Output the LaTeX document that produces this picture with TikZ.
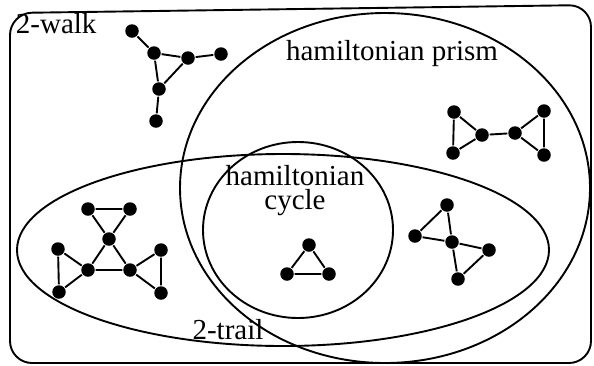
\documentclass[tikz,border=0pt]{standalone}
\usepackage{fontspec}
\setmainfont{Liberation Serif}
\begin{document}
\begin{tikzpicture}[x=1pt,y=-1pt,line width=1.9pt,
	vtx/.style={circle,fill,inner sep=0pt,minimum size=13.5pt},
	lbl/.style={font=\fontsize{29}{24}\selectfont,inner sep=0pt}]
	\useasboundingbox (0,0) rectangle (594,365);
	
	% outer frame and the three classes
	\draw[rounded corners=22pt] (10,363)--(10,13)--(591,5)--(591,363)--cycle;
	\draw (385,188) ellipse [x radius=205,y radius=175];
	\draw (283,250) ellipse [x radius=266,y radius=96];
	\draw (298,230) ellipse [x radius=95,y radius=88];
	
	\node[lbl,anchor=base west] (walk) at (15,33) {2-walk};
	\node[lbl,anchor=base] (prism) at (392,60) {hamiltonian prism};
	\node[lbl,align=center] (ham) at (295,191) {hamiltonian\\cycle};
	\node[lbl,anchor=base] (trail) at (228,339) {2-trail};
	
	% 2-walk graph
	\foreach \n/\x/\y in {w1/132/31,w2/154/53,w3/188/58,w4/221/54,w5/159/89,w6/156/121}
		\node[vtx] (\n) at (\x,\y) {};
	\draw (w1)--(w2)--(w3)--(w4) (w2)--(w5)--(w3) (w5)--(w6);
	
	% prism graph
	\foreach \n/\x/\y in {p1/454/112,p2/453/153,p3/482/135,p4/515/133,p5/544/111,p6/544/155}
		\node[vtx] (\n) at (\x,\y) {};
	\draw (p1)--(p2)--(p3)--(p1) (p3)--(p4) (p4)--(p5)--(p6)--(p4);
	
	% 2-trail graph
	\foreach \n/\x/\y in {t1/88/209,t2/130/209,t3/109/239,t4/88/270,t5/130/270,
		t6/58/249,t7/59/292,t8/161/250,t9/161/293}
		\node[vtx] (\n) at (\x,\y) {};
	\draw (t1)--(t2)--(t3)--(t1) (t3)--(t4)--(t5)--(t3)
		(t6)--(t7)--(t4)--(t6) (t8)--(t9)--(t5)--(t8);
	
	% bowtie
	\foreach \n/\x/\y in {b1/447/205,b2/415/236,b3/452/242,b4/489/250,b5/458/279}
		\node[vtx] (\n) at (\x,\y) {};
	\draw (b1)--(b2)--(b3)--(b1) (b3)--(b4)--(b5)--(b3);
	
	% triangle
	\foreach \n/\x/\y in {c1/309/245,c2/287/274,c3/329/274}
		\node[vtx] (\n) at (\x,\y) {};
	\draw (c1)--(c2)--(c3)--(c1);
\end{tikzpicture}
\end{document}
